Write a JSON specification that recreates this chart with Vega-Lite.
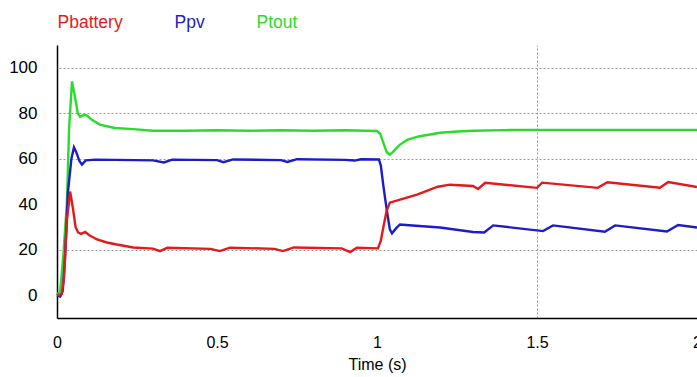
{
  "$schema": "https://vega.github.io/schema/vega-lite/v6.json",
  "width": 640,
  "height": 273,
  "autosize": {"type": "none"},
  "padding": {"left": 57, "top": 45, "right": 0, "bottom": 59},
  "background": "white",
  "config": {
    "view": {"stroke": null},
    "font": "Liberation Sans"
  },
  "data": {
    "values": [
      {"t": 0, "v": 0, "s": "Ptout"},
      {"t": 0.01, "v": 2, "s": "Ptout"},
      {"t": 0.019, "v": 16, "s": "Ptout"},
      {"t": 0.031, "v": 41, "s": "Ptout"},
      {"t": 0.038, "v": 74, "s": "Ptout"},
      {"t": 0.047, "v": 94, "s": "Ptout"},
      {"t": 0.055, "v": 88, "s": "Ptout"},
      {"t": 0.065, "v": 80, "s": "Ptout"},
      {"t": 0.072, "v": 78.5, "s": "Ptout"},
      {"t": 0.085, "v": 79.3, "s": "Ptout"},
      {"t": 0.094, "v": 79, "s": "Ptout"},
      {"t": 0.11, "v": 77, "s": "Ptout"},
      {"t": 0.134, "v": 75, "s": "Ptout"},
      {"t": 0.18, "v": 73.5, "s": "Ptout"},
      {"t": 0.238, "v": 73, "s": "Ptout"},
      {"t": 0.3, "v": 72.3, "s": "Ptout"},
      {"t": 0.4, "v": 72.3, "s": "Ptout"},
      {"t": 0.5, "v": 72.5, "s": "Ptout"},
      {"t": 0.6, "v": 72.3, "s": "Ptout"},
      {"t": 0.7, "v": 72.5, "s": "Ptout"},
      {"t": 0.8, "v": 72.3, "s": "Ptout"},
      {"t": 0.9, "v": 72.5, "s": "Ptout"},
      {"t": 1.0, "v": 72.2, "s": "Ptout"},
      {"t": 1.01, "v": 71, "s": "Ptout"},
      {"t": 1.02, "v": 67, "s": "Ptout"},
      {"t": 1.03, "v": 63, "s": "Ptout"},
      {"t": 1.04, "v": 61.8, "s": "Ptout"},
      {"t": 1.05, "v": 63, "s": "Ptout"},
      {"t": 1.07, "v": 66, "s": "Ptout"},
      {"t": 1.094, "v": 68.3, "s": "Ptout"},
      {"t": 1.13, "v": 69.8, "s": "Ptout"},
      {"t": 1.197, "v": 71.4, "s": "Ptout"},
      {"t": 1.25, "v": 72, "s": "Ptout"},
      {"t": 1.3, "v": 72.3, "s": "Ptout"},
      {"t": 1.4, "v": 72.6, "s": "Ptout"},
      {"t": 1.5, "v": 72.7, "s": "Ptout"},
      {"t": 1.7, "v": 72.7, "s": "Ptout"},
      {"t": 2.0, "v": 72.7, "s": "Ptout"},

      {"t": 0, "v": 0, "s": "Ppv"},
      {"t": 0.01, "v": -0.5, "s": "Ppv"},
      {"t": 0.018, "v": 2, "s": "Ppv"},
      {"t": 0.025, "v": 16, "s": "Ppv"},
      {"t": 0.034, "v": 45, "s": "Ppv"},
      {"t": 0.045, "v": 60, "s": "Ppv"},
      {"t": 0.053, "v": 65, "s": "Ppv"},
      {"t": 0.06, "v": 63, "s": "Ppv"},
      {"t": 0.07, "v": 59, "s": "Ppv"},
      {"t": 0.078, "v": 57.4, "s": "Ppv"},
      {"t": 0.09, "v": 59.3, "s": "Ppv"},
      {"t": 0.12, "v": 59.6, "s": "Ppv"},
      {"t": 0.3, "v": 59.3, "s": "Ppv"},
      {"t": 0.334, "v": 58.4, "s": "Ppv"},
      {"t": 0.36, "v": 59.6, "s": "Ppv"},
      {"t": 0.5, "v": 59.4, "s": "Ppv"},
      {"t": 0.52, "v": 58.5, "s": "Ppv"},
      {"t": 0.55, "v": 59.7, "s": "Ppv"},
      {"t": 0.7, "v": 59.4, "s": "Ppv"},
      {"t": 0.72, "v": 58.6, "s": "Ppv"},
      {"t": 0.75, "v": 59.8, "s": "Ppv"},
      {"t": 0.9, "v": 59.5, "s": "Ppv"},
      {"t": 0.93, "v": 59.2, "s": "Ppv"},
      {"t": 0.95, "v": 59.8, "s": "Ppv"},
      {"t": 1.006, "v": 59.7, "s": "Ppv"},
      {"t": 1.012, "v": 57, "s": "Ppv"},
      {"t": 1.02, "v": 48, "s": "Ppv"},
      {"t": 1.03, "v": 38, "s": "Ppv"},
      {"t": 1.04, "v": 29, "s": "Ppv"},
      {"t": 1.047, "v": 27.2, "s": "Ppv"},
      {"t": 1.06, "v": 29.5, "s": "Ppv"},
      {"t": 1.072, "v": 31.1, "s": "Ppv"},
      {"t": 1.1, "v": 30.8, "s": "Ppv"},
      {"t": 1.197, "v": 29.8, "s": "Ppv"},
      {"t": 1.3, "v": 27.8, "s": "Ppv"},
      {"t": 1.335, "v": 27.6, "s": "Ppv"},
      {"t": 1.363, "v": 30.7, "s": "Ppv"},
      {"t": 1.519, "v": 28.2, "s": "Ppv"},
      {"t": 1.55, "v": 30.7, "s": "Ppv"},
      {"t": 1.712, "v": 27.9, "s": "Ppv"},
      {"t": 1.744, "v": 30.7, "s": "Ppv"},
      {"t": 1.906, "v": 28, "s": "Ppv"},
      {"t": 1.941, "v": 30.9, "s": "Ppv"},
      {"t": 2.0, "v": 29.8, "s": "Ppv"},

      {"t": 0, "v": 0, "s": "Pbattery"},
      {"t": 0.015, "v": 0.5, "s": "Pbattery"},
      {"t": 0.022, "v": 8, "s": "Pbattery"},
      {"t": 0.031, "v": 33, "s": "Pbattery"},
      {"t": 0.041, "v": 45.6, "s": "Pbattery"},
      {"t": 0.05, "v": 38, "s": "Pbattery"},
      {"t": 0.058, "v": 30, "s": "Pbattery"},
      {"t": 0.066, "v": 27.6, "s": "Pbattery"},
      {"t": 0.075, "v": 27, "s": "Pbattery"},
      {"t": 0.088, "v": 27.8, "s": "Pbattery"},
      {"t": 0.1, "v": 26.5, "s": "Pbattery"},
      {"t": 0.125, "v": 24.5, "s": "Pbattery"},
      {"t": 0.156, "v": 23.2, "s": "Pbattery"},
      {"t": 0.187, "v": 22.3, "s": "Pbattery"},
      {"t": 0.238, "v": 21, "s": "Pbattery"},
      {"t": 0.3, "v": 20.5, "s": "Pbattery"},
      {"t": 0.322, "v": 19.4, "s": "Pbattery"},
      {"t": 0.345, "v": 20.9, "s": "Pbattery"},
      {"t": 0.48, "v": 20.4, "s": "Pbattery"},
      {"t": 0.509, "v": 19.4, "s": "Pbattery"},
      {"t": 0.54, "v": 20.9, "s": "Pbattery"},
      {"t": 0.68, "v": 20.4, "s": "Pbattery"},
      {"t": 0.706, "v": 19.4, "s": "Pbattery"},
      {"t": 0.74, "v": 21, "s": "Pbattery"},
      {"t": 0.89, "v": 20.6, "s": "Pbattery"},
      {"t": 0.916, "v": 19, "s": "Pbattery"},
      {"t": 0.937, "v": 20.9, "s": "Pbattery"},
      {"t": 1.003, "v": 20.6, "s": "Pbattery"},
      {"t": 1.012, "v": 24, "s": "Pbattery"},
      {"t": 1.02, "v": 30, "s": "Pbattery"},
      {"t": 1.03, "v": 37, "s": "Pbattery"},
      {"t": 1.04, "v": 40.7, "s": "Pbattery"},
      {"t": 1.072, "v": 42, "s": "Pbattery"},
      {"t": 1.125, "v": 44.2, "s": "Pbattery"},
      {"t": 1.19, "v": 47.7, "s": "Pbattery"},
      {"t": 1.228, "v": 48.6, "s": "Pbattery"},
      {"t": 1.3, "v": 48, "s": "Pbattery"},
      {"t": 1.316, "v": 46.7, "s": "Pbattery"},
      {"t": 1.338, "v": 49.4, "s": "Pbattery"},
      {"t": 1.5, "v": 47.2, "s": "Pbattery"},
      {"t": 1.516, "v": 49.5, "s": "Pbattery"},
      {"t": 1.69, "v": 47.2, "s": "Pbattery"},
      {"t": 1.72, "v": 49.7, "s": "Pbattery"},
      {"t": 1.884, "v": 47.3, "s": "Pbattery"},
      {"t": 1.91, "v": 49.8, "s": "Pbattery"},
      {"t": 2.0, "v": 47.6, "s": "Pbattery"}
    ]
  },
  "resolve": {"axis": {"x": "independent", "y": "independent"}},
  "layer": [
    {
      "mark": {"type": "line", "strokeOpacity": 0},
      "encoding": {
        "x": {
          "field": "t", "type": "quantitative",
          "scale": {"domain": [0, 2], "nice": false, "zero": false},
          "axis": {"orient": "top", "values": [1.5], "grid": true, "labels": false, "ticks": false, "domain": false, "title": null,
                   "gridColor": "#9a9a9a", "gridDash": [2, 2], "gridWidth": 1}
        },
        "y": {
          "field": "v", "type": "quantitative",
          "scale": {"domain": [-10, 110], "nice": false, "zero": false},
          "axis": {"orient": "right", "values": [20, 60, 80, 100], "grid": true, "labels": false, "ticks": false, "domain": false, "title": null,
                   "gridColor": "#9a9a9a", "gridDash": [2, 2], "gridWidth": 1}
        },
        "detail": {"field": "s"}
      }
    },
    {
      "mark": {"type": "line", "strokeWidth": 2.4, "interpolate": "linear"},
      "encoding": {
        "x": {
          "field": "t", "type": "quantitative",
          "axis": {"orient": "bottom", "values": [0, 0.5, 1, 1.5, 2], "format": "~g", "grid": false, "ticks": false, "tickSize": 0,
                   "domainColor": "#000000", "domainWidth": 1.5, "labelFontSize": 16, "labelColor": "#000000", "labelPadding": 16,
                   "labelFlush": false, "labelBound": false, "labelOverlap": false,
                   "title": "Time (s)", "titleFontSize": 16, "titleFontWeight": "normal", "titleColor": "#000000", "titlePadding": 6}
        },
        "y": {
          "field": "v", "type": "quantitative",
          "axis": {"orient": "left", "values": [0, 20, 40, 60, 80, 100], "grid": false, "ticks": false, "tickSize": 0,
                   "domainColor": "#000000", "domainWidth": 1.5, "labelFontSize": 17, "labelColor": "#000000", "labelPadding": 20,
                   "title": null}
        },
        "color": {
          "field": "s", "type": "nominal",
          "scale": {"domain": ["Pbattery", "Ppv", "Ptout"], "range": ["#e31a1c", "#1c1cc8", "#2adc2a"]},
          "legend": {
            "title": null, "orient": "none", "legendX": -17, "legendY": -31, "direction": "horizontal",
            "symbolSize": 0, "symbolStrokeWidth": 0, "symbolOpacity": 0, "labelOffset": 0, "columnPadding": 34, "padding": 0,
            "labelFontSize": 17.5,
            "encode": {"labels": {"update": {"fill": {"scale": "color", "field": "value"}}}}
          }
        }
      }
    }
  ]
}
